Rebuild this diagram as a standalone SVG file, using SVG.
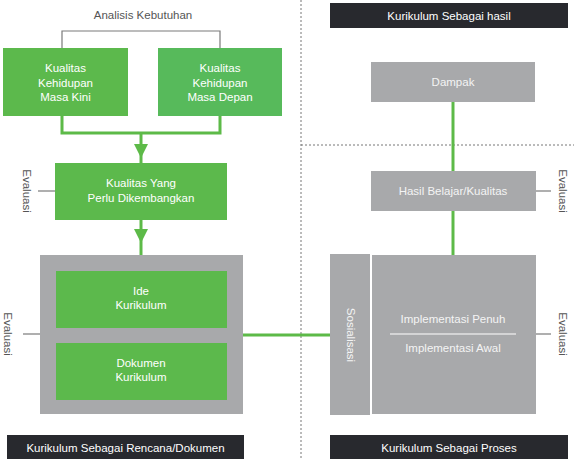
<svg xmlns="http://www.w3.org/2000/svg" width="574" height="459" viewBox="0 0 574 459">
<style>
text{font-family:"Liberation Sans",Arial,sans-serif;font-size:11.5px;text-anchor:middle}
.w{fill:#ffffff}
.wg{fill:#f4f4f4}
.d{fill:#555555}
.g{fill:#5cb94c}
.g2{fill:#57ba5b}
.gr{fill:#a8a9ab}
.bk{fill:#28292e}
.gl{stroke:#5dba48;stroke-width:3;fill:none}
.el{stroke:#7a7a7a;stroke-width:1.2;fill:none}
.ar{fill:#5dba48}
</style>
<rect width="574" height="459" fill="#ffffff"/>
<g id="dividers">
<line x1="301" y1="0" x2="301" y2="459" stroke="#777" stroke-width="1" stroke-dasharray="2,2"/>
<line x1="301" y1="145" x2="574" y2="145" stroke="#777" stroke-width="1" stroke-dasharray="2,2"/>
</g>
<g id="connectors">
<polyline class="el" points="62,48 62,31 220,31 220,48"/>
<polyline class="gl" points="62,116 62,133 220,133 220,116"/>
<line class="gl" x1="141" y1="133" x2="141" y2="163"/>
<polygon class="ar" points="134,144 148,144 141,158"/>
<line class="gl" x1="141" y1="220" x2="141" y2="271"/>
<polygon class="ar" points="134,229 148,229 141,243"/>
<line class="gl" x1="141" y1="328" x2="141" y2="343"/>
<line class="gl" x1="243" y1="335" x2="330" y2="335"/>
<line class="gl" x1="453" y1="102" x2="453" y2="171"/>
<line class="gl" x1="453" y1="211" x2="453" y2="255"/>
<line class="el" x1="38" y1="191" x2="55" y2="191"/>
<line class="el" x1="23" y1="334" x2="40" y2="334"/>
<line class="el" x1="536" y1="191" x2="551" y2="191"/>
<line class="el" x1="536" y1="334" x2="551" y2="334"/>
</g>
<g id="analisis"><text class="d" x="143" y="19">Analisis Kebutuhan</text></g>
<g id="kini">
<rect class="g" x="3" y="48" width="125" height="68"/>
<text class="w" x="65.5" y="72">Kualitas</text>
<text class="w" x="65.5" y="87">Kehidupan</text>
<text class="w" x="65.5" y="101">Masa Kini</text>
</g>
<g id="depan">
<rect class="g2" x="158" y="48" width="124" height="68"/>
<text class="w" x="220" y="72">Kualitas</text>
<text class="w" x="220" y="87">Kehidupan</text>
<text class="w" x="220" y="101">Masa Depan</text>
</g>
<g id="kualitas-yang">
<rect class="g" x="55" y="163" width="172" height="57"/>
<text class="w" x="141" y="187">Kualitas Yang</text>
<text class="w" x="141" y="202">Perlu Dikembangkan</text>
</g>
<g id="eval1"><text class="d" transform="translate(23,191) rotate(90)">Evaluasi</text></g>
<g id="rencana-container"><rect class="gr" x="40" y="255" width="203" height="159"/></g>
<g id="ide">
<rect class="g" x="56" y="271" width="171" height="57"/>
<text class="w" x="141" y="295">Ide</text>
<text class="w" x="141" y="309">Kurikulum</text>
</g>
<g id="dokumen">
<rect class="g" x="56" y="343" width="171" height="57"/>
<text class="w" x="141" y="367">Dokumen</text>
<text class="w" x="141" y="381">Kurikulum</text>
</g>
<g id="eval2"><text class="d" transform="translate(4,334) rotate(90)">Evaluasi</text></g>
<g id="label-rencana">
<rect class="bk" x="7" y="435" width="237" height="24"/>
<text class="w" x="125.5" y="452">Kurikulum Sebagai Rencana/Dokumen</text>
</g>
<g id="label-hasil">
<rect class="bk" x="330" y="3" width="238" height="25"/>
<text class="w" x="449" y="20">Kurikulum Sebagai hasil</text>
</g>
<g id="dampak">
<rect class="gr" x="371" y="62" width="164" height="40"/>
<text class="wg" x="453" y="86">Dampak</text>
</g>
<g id="hasil-belajar">
<rect class="gr" x="371" y="171" width="165" height="40"/>
<text class="wg" x="453" y="195">Hasil Belajar/Kualitas</text>
</g>
<g id="eval3"><text class="d" transform="translate(559,191) rotate(90)">Evaluasi</text></g>
<g id="sosialisasi">
<rect class="gr" x="330" y="254" width="40" height="161"/>
<text class="wg" transform="translate(347,335) rotate(90)">Sosialisasi</text>
</g>
<g id="implementasi">
<rect class="gr" x="372" y="255" width="164" height="159"/>
<text class="wg" x="453" y="323">Implementasi Penuh</text>
<line x1="390" y1="334" x2="516" y2="334" stroke="#ffffff" stroke-width="1.2"/>
<text class="wg" x="453" y="352">Implementasi Awal</text>
</g>
<g id="eval4"><text class="d" transform="translate(559,334) rotate(90)">Evaluasi</text></g>
<g id="label-proses">
<rect class="bk" x="330" y="435" width="238" height="24"/>
<text class="w" x="449" y="452">Kurikulum Sebagai Proses</text>
</g>
</svg>
